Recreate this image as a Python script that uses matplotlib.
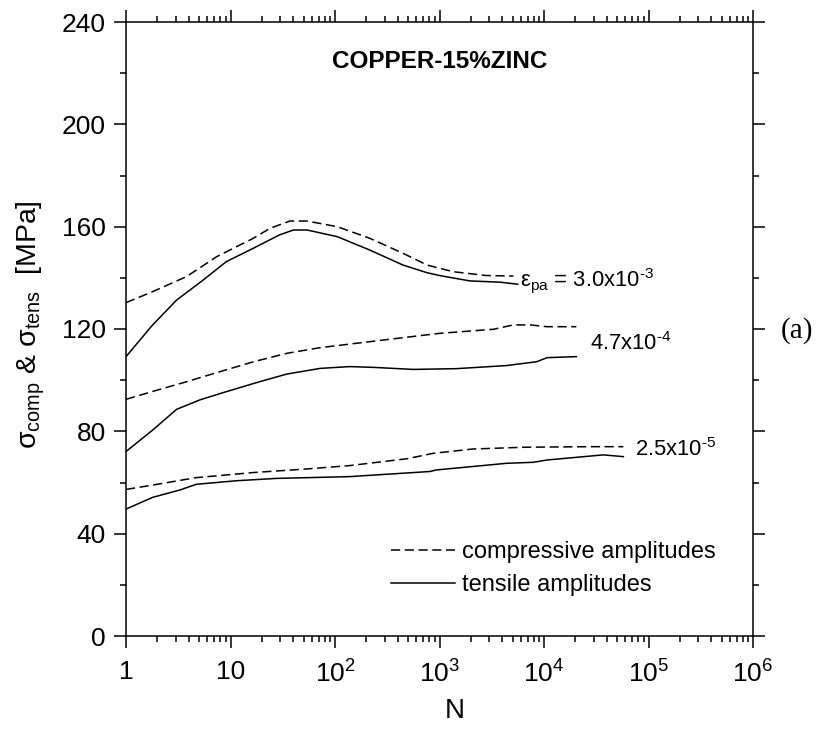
import math
import matplotlib
matplotlib.use("Agg")
import matplotlib.pyplot as plt
from matplotlib.ticker import FixedLocator, LogLocator, FuncFormatter, NullFormatter

plt.rcParams['font.family'] = ['Liberation Sans', 'DejaVu Sans']
plt.rcParams['mathtext.fontset'] = 'custom'
plt.rcParams['mathtext.rm'] = 'Liberation Sans'
plt.rcParams['mathtext.it'] = 'Liberation Sans:italic'
plt.rcParams['mathtext.default'] = 'regular'

# ---- data: cycles N and stress amplitudes [MPa] ----
# eps_pa = 3.0e-3
N_hi_comp = [1, 1.8, 3.8, 7.4, 16.6, 24, 37, 54, 105, 214, 447, 760, 1350, 2800, 5100]
S_hi_comp = [130.3, 134.6, 140.5, 148.3, 155.5, 159.4, 162.2, 162.2, 160.0, 155.5,
             149.6, 145.0, 142.4, 140.9, 140.7]
N_hi_tens = [1, 1.8, 3.05, 5.5, 9.1, 16.6, 29.5, 40, 54, 105, 214, 447, 760, 1000,
             1950, 3800, 5600]
S_hi_tens = [109.2, 121.6, 131.3, 139.2, 146.3, 151.6, 156.8, 158.7, 158.7, 156.1,
             150.9, 145.0, 142.0, 140.9, 138.8, 138.3, 137.5]

# eps_pa = 4.7e-4
N_mid_comp = [1, 1.8, 3.8, 7.9, 16.6, 34.7, 72, 138, 490, 1000, 3300, 5100, 7400,
              10700, 20400]
S_mid_comp = [92.5, 95.6, 99.4, 103.3, 107.2, 110.5, 112.7, 114.1, 116.8, 118.3,
              119.9, 121.6, 121.6, 120.9, 120.9]
N_mid_tens = [1, 1.8, 3.05, 5.1, 9.1, 19, 34.7, 72, 138, 234, 562, 1450, 4370, 8500,
              10700, 20400]
S_mid_tens = [72.1, 80.5, 88.6, 92.3, 95.5, 99.4, 102.4, 104.6, 105.3, 105.0, 104.2,
              104.5, 105.7, 107.2, 108.8, 109.2]

# eps_pa = 2.5e-5
N_lo_comp = [1, 1.8, 4.7, 16.6, 50, 138, 490, 870, 2090, 6760, 27500, 57500]
S_lo_comp = [57.3, 59.0, 61.9, 63.9, 65.2, 66.6, 69.3, 71.4, 73.1, 73.8, 74.0, 74.0]
N_lo_tens = [1, 1.8, 3.3, 4.7, 11.5, 27.5, 138, 810, 930, 4370, 7900, 10700, 37000,
             57500]
S_lo_tens = [49.6, 54.2, 57.1, 59.3, 60.7, 61.6, 62.3, 64.3, 64.9, 67.5, 67.9, 68.8,
             70.8, 70.1]

# amplitude labels: (text, N, stress)
amp_labels = [r"$ε_{pa}$ = 3.0x10$^{\text{-}3}$", r"4.7x10$^{\text{-}4}$",
              r"2.5x10$^{\text{-}5}$"]
amp_label_N = [5900, 27500, 74000]
amp_label_S = [139.0, 114.2, 72.7]

x_ticks = [1, 10, 100, 1e3, 1e4, 1e5, 1e6]
y_ticks = [0, 40, 80, 120, 160, 200, 240]

fig = plt.figure(figsize=(8.24, 7.42), dpi=100)
ax = fig.add_axes([126 / 824, 1 - 636 / 742, 627 / 824, 614 / 742])

dash = (0, (6, 3))
lw = 1.1
ax.plot(N_hi_comp, S_hi_comp, color='black', lw=lw, linestyle=dash,
        label='compressive amplitudes')
ax.plot(N_hi_tens, S_hi_tens, color='black', lw=lw, label='tensile amplitudes')
ax.plot(N_mid_comp, S_mid_comp, color='black', lw=lw, linestyle=dash)
ax.plot(N_mid_tens, S_mid_tens, color='black', lw=lw)
ax.plot(N_lo_comp, S_lo_comp, color='black', lw=lw, linestyle=dash)
ax.plot(N_lo_tens, S_lo_tens, color='black', lw=lw)

ax.set_xscale('log')
ax.set_xlim(1, 1e6)
ax.set_ylim(0, 240)

ax.xaxis.set_major_locator(FixedLocator(x_ticks))
ax.xaxis.set_minor_locator(LogLocator(base=10, subs=range(2, 10), numticks=20))
ax.xaxis.set_minor_formatter(NullFormatter())


def fmt_x(v, pos):
    if v == 1:
        return "1"
    if v == 10:
        return "10"
    return r"10$^{%d}$" % int(round(math.log10(v)))


ax.xaxis.set_major_formatter(FuncFormatter(fmt_x))
ax.yaxis.set_major_locator(FixedLocator(y_ticks))
ax.yaxis.set_minor_locator(FixedLocator(list(range(20, 240, 40))))

for s in ax.spines.values():
    s.set_linewidth(1.1)
ax.tick_params(which='both', direction='out', top=True, right=True, width=1.1,
               labelsize=19, colors='black')
ax.tick_params(which='major', length=8.6)
ax.tick_params(which='minor', length=4.3)
ax.tick_params(axis='x', which='major', pad=9)
ax.tick_params(axis='y', which='major', pad=6)

for t, n, s in zip(amp_labels, amp_label_N, amp_label_S):
    ax.text(n, s, t, ha='left', va='center', fontsize=15.8)

ax.text(0.5, 0.935, "COPPER-15%ZINC", transform=ax.transAxes, ha='center',
        va='center', fontsize=17.5, fontweight='bold')

ax.legend(loc='upper left', bbox_to_anchor=(0.423, 0.155), frameon=False,
          fontsize=17, handlelength=2.7, handletextpad=0.3, labelspacing=0.48,
          borderpad=0, borderaxespad=0)

fig.text(455 / 824, 1 - 711 / 742, "N", ha='center', va='center', fontsize=20)
fig.text(31 / 824, 1 - 325 / 742, r"σ$_{comp}$ & σ$_{tens}$  [MPa]", rotation=90,
         ha='center', va='center', fontsize=20.5)
fig.text(797 / 824, 1 - 331 / 742, "(a)", ha='center', va='center', fontsize=21,
         family='Liberation Serif')

fig.savefig("out.png", dpi=100)
